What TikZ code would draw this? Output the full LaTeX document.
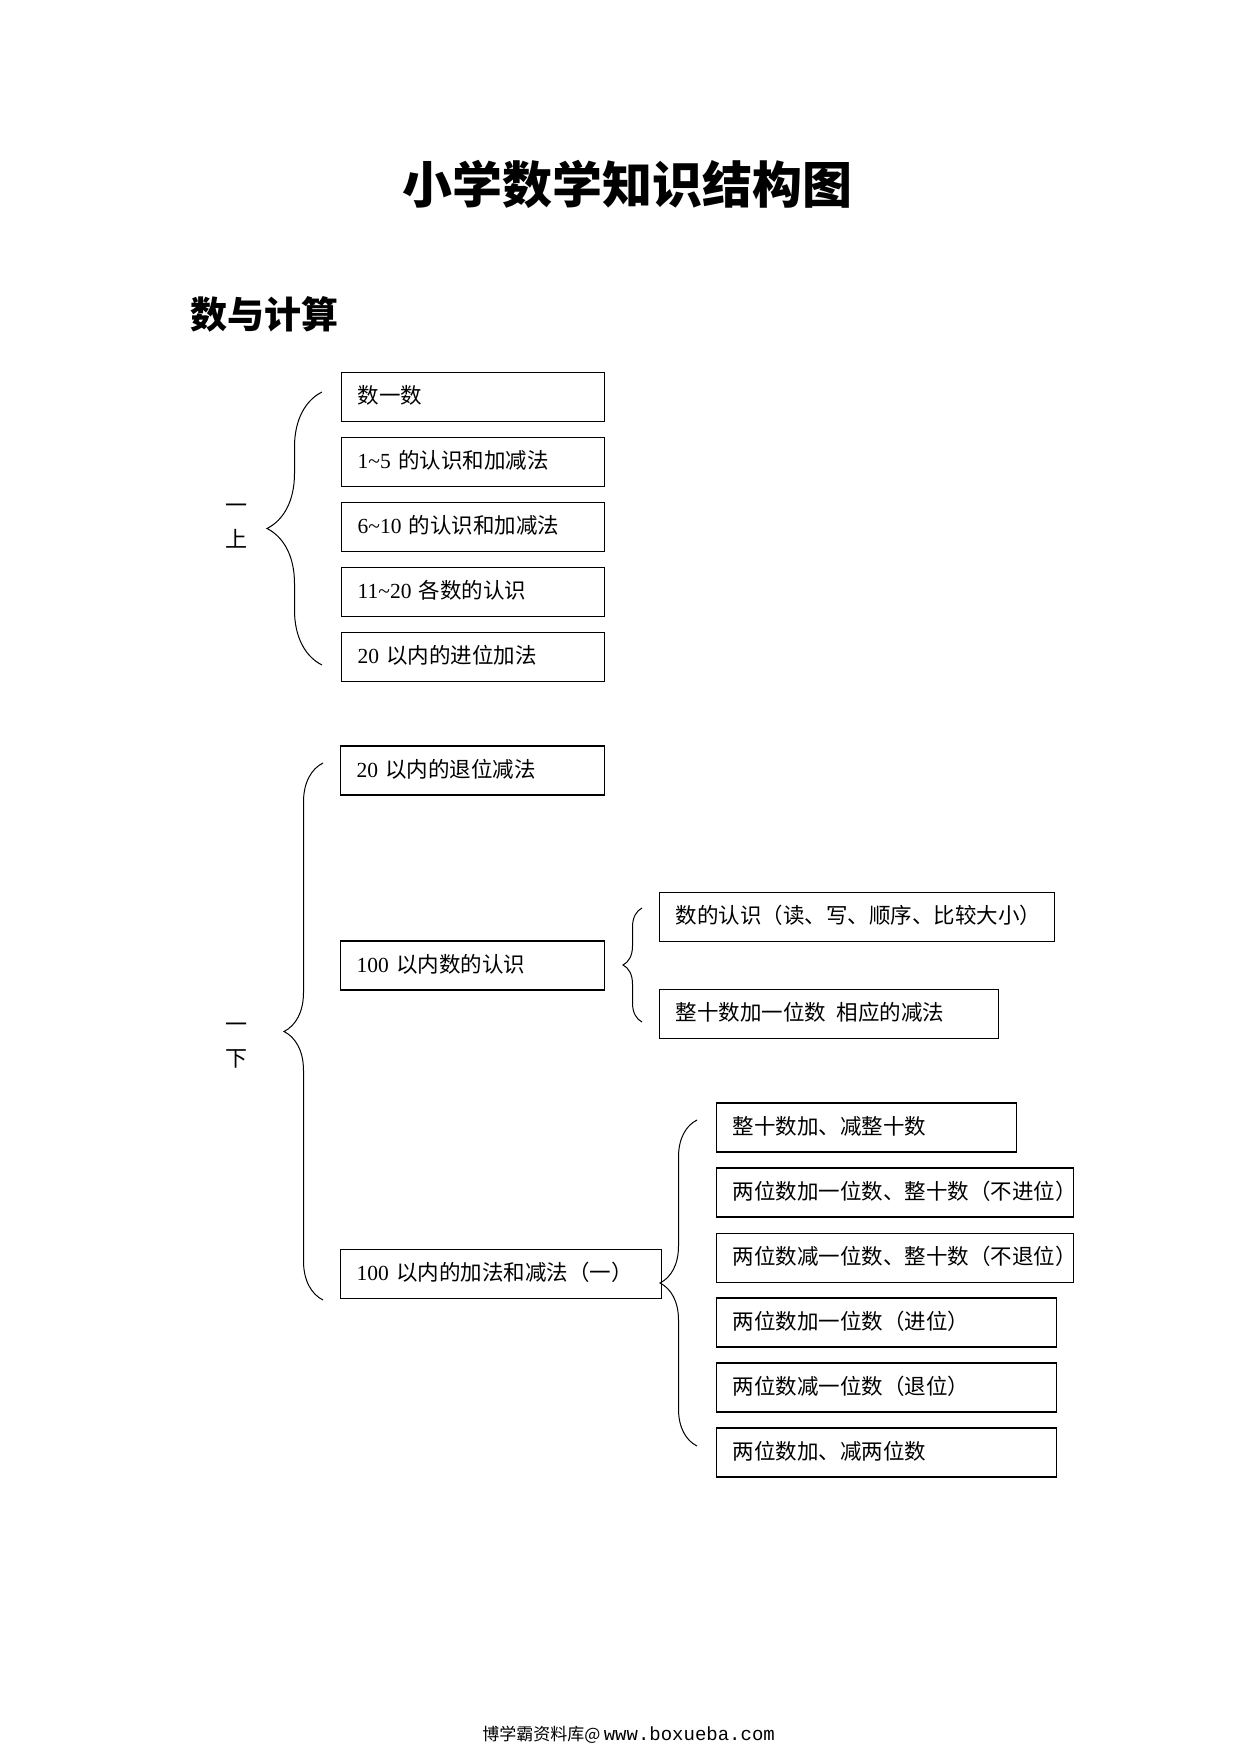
\documentclass[tikz,border=0pt]{standalone}
\usepackage{fontspec}
\setmainfont{Liberation Serif}
\setmonofont{Liberation Mono}
\newfontfamily\cjk{Noto Sans CJK SC}
\usetikzlibrary{decorations.pathreplacing}

\newcommand{\num}[1]{{\rmfamily #1}}

\tikzset{
    box/.style={draw, line width=0.7pt, anchor=west, minimum height=24.5pt,
        inner xsep=8pt, inner ysep=0pt, align=left,
        text height=8.5pt, text depth=2pt,
        font=\cjk\fontsize{10.75pt}{13pt}\selectfont},
    item/.style={box, text width=#1},
    grade/.style={align=center, font=\cjk\fontsize{11pt}{17pt}\selectfont},
    curly/.style={decorate, decoration={brace, amplitude=#1}, line width=0.5pt},
}

\begin{document}
\begin{tikzpicture}[x=0.5pt, y=-0.5pt]
    \useasboundingbox (0,0) rectangle (1241,1754);

    \node[font=\cjk\bfseries\fontsize{25pt}{30pt}\selectfont] (title) at (627,184) {小学数学知识结构图};
    \node[anchor=west, inner sep=0pt, font=\cjk\bfseries\fontsize{18.5pt}{22pt}\selectfont] (sec) at (190,314) {数与计算};

    % first term
    \node[grade] (up) at (236,526) {一\\上};
    \node[item=115.5pt] (U1) at (341,397) {数一数};
    \node[item=115.5pt] (U2) at (341,462) {\num{1\textasciitilde5} 的认识和加减法};
    \node[item=115.5pt] (U3) at (341,527) {\num{6\textasciitilde10} 的认识和加减法};
    \node[item=115.5pt] (U4) at (341,592) {\num{11\textasciitilde20} 各数的认识};
    \node[item=115.5pt] (U5) at (341,657) {\num{20} 以内的进位加法};

    \coordinate (B1top) at (322,392);
    \coordinate (B1bot) at (322,665);
    \draw[curly=27.5pt] (B1bot) -- (B1top);

    % second term
    \node[grade] (down) at (236,1046) {一\\下};
    \node[item=116pt] (D1) at (340,770.5) {\num{20} 以内的退位减法};
    \node[item=116pt] (D2) at (340,965.5) {\num{100} 以内数的认识};
    \node[item=144.5pt] (D3) at (340,1274) {\num{100} 以内的加法和减法（一）};

    \coordinate (B2top) at (323,763);
    \coordinate (B2bot) at (323,1300);
    \draw[curly=19.5pt] (B2bot) -- (B2top);

    \node[item=181.5pt] (R1) at (659,917) {数的认识（读、写、顺序、比较大小）};
    \node[item=153.5pt] (R2) at (659,1014) {整十数加一位数\hspace{0.5em}相应的减法};

    \coordinate (B3top) at (642,908);
    \coordinate (B3bot) at (642,1022);
    \draw[curly=9.5pt] (B3bot) -- (B3top);

    \node[item=134pt] (P1) at (716,1127.5) {整十数加、减整十数};
    \node[item=162.5pt] (P2) at (716,1192.5) {两位数加一位数、整十数（不进位）};
    \node[item=162.5pt] (P3) at (716,1258) {两位数减一位数、整十数（不退位）};
    \node[item=154pt] (P4) at (716,1322.5) {两位数加一位数（进位）};
    \node[item=154pt] (P5) at (716,1387.5) {两位数减一位数（退位）};
    \node[item=154pt] (P6) at (716,1452.5) {两位数加、减两位数};

    \coordinate (B4top) at (697,1120);
    \coordinate (B4bot) at (697,1446);
    \draw[curly=18.5pt] (B4bot) -- (B4top);

    \node[anchor=west, inner sep=0pt] (foot) at (482,1735)
        {{\cjk\fontsize{8.5pt}{10pt}\selectfont 博学霸资料库@}\,{\ttfamily\fontsize{9.5pt}{10pt}\selectfont www.boxueba.com}};
\end{tikzpicture}
\end{document}
